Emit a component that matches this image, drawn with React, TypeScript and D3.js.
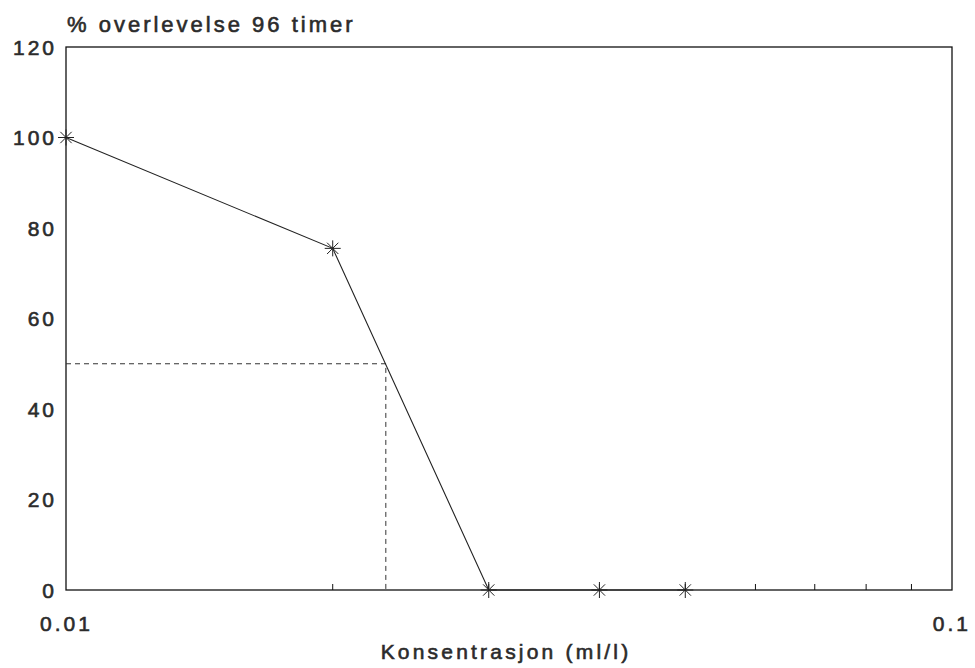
import React from "react";
import * as d3 from "d3";

const concentrations = [0.01, 0.02, 0.03, 0.04, 0.05];
const survival = [100, 75.5, 0, 0, 0];
const yTicks = [0, 20, 40, 60, 80, 100, 120];
const xMinorTicks = [0.02, 0.03, 0.04, 0.05, 0.06, 0.07, 0.08, 0.09];
const xLabels = [0.01, 0.1];
const lc50 = 0.02296;
const lc50Level = 50;
const title = "% overlevelse 96 timer";
const xTitle = "Konsentrasjon (ml/l)";

const W = 975;
const H = 668;
const m = { left: 66, right: 952, top: 47, bottom: 590 };
const font = "'Liberation Sans', Arial, sans-serif";
const ink = "#2b2b2b";

export default function App() {
  const x = d3.scaleLog().domain([0.01, 0.1]).range([m.left, m.right]);
  const y = d3.scaleLinear().domain([0, 120]).range([m.bottom, m.top]);
  const pts = concentrations.map((c, i) => [c, survival[i]] as [number, number]);
  const line = d3
    .line<[number, number]>()
    .x((d) => x(d[0]))
    .y((d) => y(d[1]));
  const star = (cx: number, cy: number, r: number) =>
    [0, 45, 90, 135]
      .map((a) => {
        const rad = (a * Math.PI) / 180;
        const dx = Math.cos(rad) * r;
        const dy = Math.sin(rad) * r;
        return `M${cx - dx},${cy - dy}L${cx + dx},${cy + dy}`;
      })
      .join("");

  const textStyle = {
    fontFamily: font,
    fill: ink,
    stroke: ink,
    strokeWidth: 0.6,
  } as const;

  return (
    <svg width={W} height={H} style={{ position: "absolute", left: 0, top: 0, background: "#fff" }}>
      <rect x={0} y={0} width={W} height={H} fill="#fff" />
      <text x={67} y={32} fontSize={22} letterSpacing={3} {...textStyle}>
        {title}
      </text>
      {/* frame */}
      <rect
        x={m.left}
        y={m.top}
        width={m.right - m.left}
        height={m.bottom - m.top}
        fill="none"
        stroke="#111"
        strokeWidth={1.3}
      />
      {/* y labels */}
      {yTicks.map((t) => (
        <text
          key={t}
          x={m.left - 9}
          y={y(t) + 7.5}
          textAnchor="end"
          fontSize={21}
          letterSpacing={3}
          {...textStyle}
        >
          {t}
        </text>
      ))}
      {/* x minor ticks */}
      {xMinorTicks.map((t) => (
        <line key={t} x1={x(t)} x2={x(t)} y1={m.bottom} y2={m.bottom - 6} stroke="#111" strokeWidth={1} />
      ))}
      {/* x labels */}
      <text x={40} y={631} fontSize={21} letterSpacing={3} {...textStyle}>
        {String(xLabels[0])}
      </text>
      <text x={971} y={631} textAnchor="end" fontSize={21} letterSpacing={3} {...textStyle}>
        {String(xLabels[1])}
      </text>
      <text x={506} y={659} textAnchor="middle" fontSize={21} letterSpacing={3.2} {...textStyle}>
        {xTitle}
      </text>
      {/* LC50 dashed */}
      <path
        d={`M${x(0.01)},${y(lc50Level)}H${x(lc50)}V${y(0)}`}
        fill="none"
        stroke="#333"
        strokeWidth={1}
        strokeDasharray="5,4"
      />
      {/* data line */}
      <path d={line(pts) || ""} fill="none" stroke="#222" strokeWidth={1.1} />
      {pts.map((p, i) => (
        <path key={i} d={star(x(p[0]), y(p[1]), 8)} stroke="#222" strokeWidth={1} />
      ))}
    </svg>
  );
}
